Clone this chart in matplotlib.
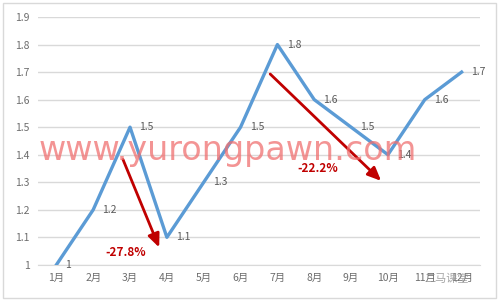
import matplotlib
matplotlib.use("Agg")
import matplotlib.pyplot as plt
from matplotlib.patches import Rectangle

plt.rcParams['font.family'] = ['Noto Sans CJK SC', 'DejaVu Sans']

# data
months = ['1月', '2月', '3月', '4月', '5月', '6月', '7月', '8月', '9月', '10月', '11月', '12月']
values = [1, 1.2, 1.5, 1.1, 1.3, 1.5, 1.8, 1.6, 1.5, 1.4, 1.6, 1.7]
value_labels = ['1', '1.2', '1.5', '1.1', '1.3', '1.5', '1.8', '1.6', '1.5', '1.4', '1.6', '1.7']
yticks = [1, 1.1, 1.2, 1.3, 1.4, 1.5, 1.6, 1.7, 1.8, 1.9]
ytick_labels = ['1', '1.1', '1.2', '1.3', '1.4', '1.5', '1.6', '1.7', '1.8', '1.9']
drops = ['-27.8%', '-22.2%']

fig = plt.figure(figsize=(4.99, 3.01), dpi=100)
ax = fig.add_axes([0.076, 0.12, 0.886, 0.8235])

x = list(range(len(months)))
ax.plot(x, values, color='#5B9BD5', lw=2.4, zorder=3)
for i, (v, s) in enumerate(zip(values, value_labels)):
    ax.text(i + 0.25, v, s, fontsize=7.5, color='#595959', va='center', ha='left', zorder=4)

ax.set_xlim(-0.5, 11.5)
ax.set_ylim(1, 1.9)
ax.set_xticks(x)
ax.set_xticklabels(months, fontsize=7.5, color='#6d6d6d')
ax.set_yticks(yticks)
ax.set_yticklabels(ytick_labels, fontsize=7.5, color='#6d6d6d')
ax.tick_params(length=0, pad=6)
ax.grid(axis='y', color='#D9D9D9', lw=1)
ax.set_axisbelow(True)
for sp in ['top', 'right', 'left']:
    ax.spines[sp].set_visible(False)
ax.spines['bottom'].set_color('#D9D9D9')

# red arrows
arrow_style = dict(arrowstyle='-|>,head_length=0.8,head_width=0.35', color='#C00000', lw=2)
ax.annotate('', xy=(2.82, 1.054), xytext=(1.78, 1.392), arrowprops=arrow_style, zorder=5)
ax.annotate('', xy=(8.87, 1.298), xytext=(5.75, 1.70), arrowprops=arrow_style, zorder=5)
ax.text(1.88, 1.045, drops[0], color='#C00000', fontsize=8.5, fontweight='bold', ha='center', va='center', zorder=5)
ax.text(7.1, 1.35, drops[1], color='#C00000', fontsize=8.5, fontweight='bold', ha='center', va='center', zorder=5)

# watermarks
fig.text(0.456, 0.50, 'www.yurongpawn.com', fontsize=24, color='#F07070', alpha=0.75,
         ha='center', va='center', family='DejaVu Sans')
fig.text(0.895, 0.075, '二马课堂', fontsize=8, color='#909090', alpha=0.8, ha='center', va='center')

# outer frame
fig.patches.append(Rectangle((0.006, 0.01), 0.988, 0.98, transform=fig.transFigure,
                             fill=False, edgecolor='#D9D9D9', lw=1))

fig.savefig('out.png', dpi=100)
